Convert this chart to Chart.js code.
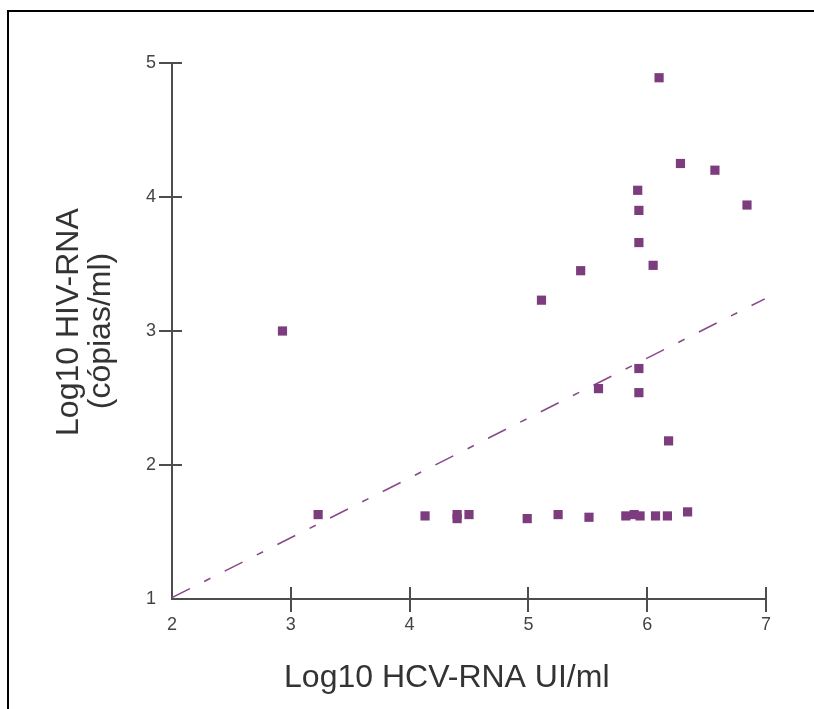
<!DOCTYPE html>
<html><head><meta charset="utf-8">
<script src="https://cdn.jsdelivr.net/npm/chart.js@4/dist/chart.umd.min.js"></script>
<style>
html,body{margin:0;padding:0;background:#fff;overflow:hidden;}
#wrap{position:relative;width:814px;height:709px;overflow:hidden;}
#frame{position:absolute;left:7px;top:10px;width:900px;height:800px;border-left:2px solid #000;border-top:2px solid #000;pointer-events:none;}
canvas{position:absolute;left:0;top:0;}
</style></head><body>
<div id="wrap"><canvas id="c" width="814" height="709"></canvas><div id="frame"></div></div>
<script>
// Values
const hcvLog = [2.93, 3.23, 4.13, 4.40, 4.40, 4.50, 4.99, 5.25, 5.51, 5.82, 5.89, 5.94, 6.07, 6.17, 6.34,
                5.11, 5.44, 5.59, 5.93, 5.93, 6.18, 6.05, 5.93, 5.93, 5.92, 6.10, 6.28, 6.57, 6.84];
const hivLog = [3.00, 1.63, 1.62, 1.63, 1.60, 1.63, 1.60, 1.63, 1.61, 1.62, 1.63, 1.62, 1.62, 1.62, 1.65,
                3.23, 3.45, 2.57, 2.72, 2.54, 2.18, 3.49, 3.66, 3.90, 4.05, 4.89, 4.25, 4.20, 3.94];
const fitX = [2.00, 6.99];
const fitY = [1.01, 3.24];
const xTicks = [2, 3, 4, 5, 6, 7];
const yTicks = [1, 2, 3, 4, 5];
const xTitle = 'Log10 HCV-RNA UI/ml';
const yTitle = ['Log10 HIV-RNA', '(cópias/ml)'];

const purple = '#7d3c7d';
const axisColor = '#4d4d4d';
const textColor = '#333333';
const tickColor = '#444444';
const fam = "'Liberation Sans', Arial, sans-serif";

const pts = hcvLog.map((x, i) => ({x: x, y: hivLog[i]}));
const fit = fitX.map((x, i) => ({x: x, y: fitY[i]}));

const crossTicks = {
  id: 'crossTicks',
  afterDraw(chart) {
    const ctx = chart.ctx, xs = chart.scales.x, ys = chart.scales.y;
    ctx.save();
    ctx.strokeStyle = axisColor;
    ctx.lineWidth = 2;
    xs.ticks.forEach((t, i) => {
      if (i === 0) return;
      const px = Math.round(xs.getPixelForValue(t.value));
      ctx.beginPath(); ctx.moveTo(px, ys.bottom - 12); ctx.lineTo(px, ys.bottom + 13); ctx.stroke();
    });
    ys.ticks.forEach((t, i) => {
      if (i === 0) return;
      const py = Math.round(ys.getPixelForValue(t.value));
      ctx.beginPath(); ctx.moveTo(xs.left - 13, py); ctx.lineTo(xs.left + 10, py); ctx.stroke();
    });
    ctx.restore();
  }
};

new Chart(document.getElementById('c'), {
  type: 'scatter',
  data: {
    datasets: [
      {
        label: 'pontos',
        data: pts,
        pointStyle: 'rect',
        pointRadius: 6.5,
        pointBorderWidth: 0,
        backgroundColor: purple,
        borderColor: purple
      },
      {
        label: 'regressão',
        data: fit,
        showLine: true,
        pointRadius: 0,
        borderColor: '#8a4a8a',
        borderWidth: 1.6,
        borderDash: [20, 16, 7, 16],
        fill: false
      }
    ]
  },
  options: {
    responsive: false,
    devicePixelRatio: 1,
    animation: false,
    layout: {padding: {left: 0, top: 63, right: 48, bottom: 0}},
    plugins: {legend: {display: false}, tooltip: {enabled: false}},
    scales: {
      x: {
        type: 'linear', min: 2, max: 7,
        afterBuildTicks: s => { s.ticks = xTicks.map(v => ({value: v})); },
        afterFit: s => { s.height = 110; },
        grid: {display: true, drawOnChartArea: false, drawTicks: true, tickLength: 13, color: 'rgba(0,0,0,0)'},
        border: {display: true, color: axisColor, width: 2},
        ticks: {color: tickColor, font: {family: fam, size: 18}, padding: 2, maxRotation: 0},
        title: {display: true, text: xTitle + '\u00a0\u00a0\u00a0\u00a0\u00a0', color: textColor,
                font: {family: fam, size: 32, lineHeight: 1.0}, padding: {top: 0, bottom: 15}}
      },
      y: {
        type: 'linear', min: 1, max: 5,
        afterBuildTicks: s => { s.ticks = yTicks.map(v => ({value: v})); },
        afterFit: s => { s.width = 172; },
        grid: {display: true, drawOnChartArea: false, drawTicks: true, tickLength: 13, color: 'rgba(0,0,0,0)'},
        border: {display: true, color: axisColor, width: 2},
        ticks: {color: tickColor, font: {family: fam, size: 18}, padding: 3},
        title: {display: true, text: ['\u00a0\u00a0' + yTitle[0], yTitle[1]], color: textColor,
                font: {family: fam, size: 32, lineHeight: 1.0}, padding: {top: 53, bottom: 0}}
      }
    }
  },
  plugins: [crossTicks]
});
</script>
</body></html>
